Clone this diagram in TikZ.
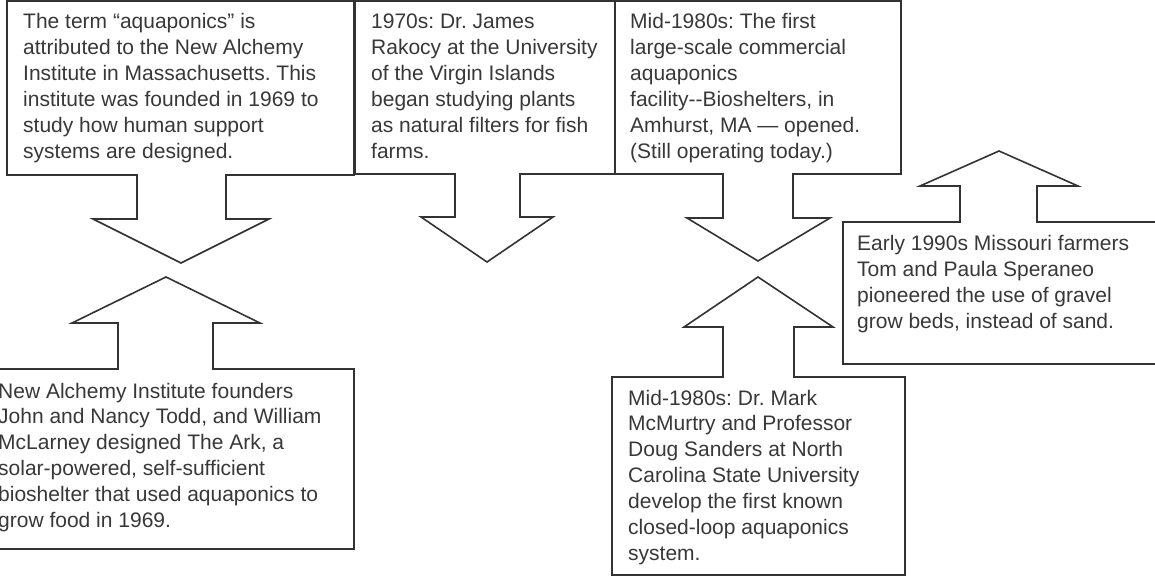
\documentclass[tikz,border=0pt]{standalone}
\usepackage{fontspec}
\setmainfont{Liberation Sans}
\definecolor{ink}{HTML}{333333}
\definecolor{txtgray}{HTML}{383838}
\begin{document}
\frenchspacing
\begin{tikzpicture}[x=1pt,y=-1pt,
  callout/.style={draw=ink,line width=1.6pt,line join=miter,fill=white},
  txt/.style={inner sep=0pt,anchor=base west,text=txtgray,
    font=\fontsize{21}{25.9}\selectfont\frenchspacing}]
\useasboundingbox (0,0) rectangle (1155,577);
\clip (0,0) rectangle (1155,577);
% Box 1 with down arrow
\draw[callout] (7,1) -- (354,1) -- (354,175) -- (226,175) -- (226,219) -- (269,219)
  -- (181,263) -- (93,219) -- (137,219) -- (137,175) -- (7,175) -- cycle;
% Box 2 with down arrow
\draw[callout] (355,1) -- (615,1) -- (615,174) -- (520,174) -- (520,217) -- (553,217)
  -- (487,262) -- (421,217) -- (455,217) -- (455,174) -- (355,174) -- cycle;
% Box 3 with down arrow
\draw[callout] (615,1) -- (901,1) -- (901,174) -- (793,174) -- (793,218) -- (830,218)
  -- (758,261) -- (687,218) -- (723,218) -- (723,174) -- (615,174) -- cycle;
% Box 4 with up arrow
\draw[callout] (843,364) -- (843,222) -- (960,222) -- (960,186) -- (920,186)
  -- (999,151) -- (1078,186) -- (1037,186) -- (1037,222) -- (1170,222)
  -- (1170,364) -- cycle;
% Box 5 with up arrow
\draw[callout] (-20,549) -- (-20,369) -- (118,369) -- (118,323) -- (72,323)
  -- (166,277) -- (260,323) -- (213,323) -- (213,369) -- (354,369)
  -- (354,549) -- cycle;
% Box 6 with up arrow
\draw[callout] (612,575) -- (612,377) -- (723,377) -- (723,327) -- (684,327)
  -- (758,277) -- (833,327) -- (794,327) -- (794,377) -- (905,377)
  -- (905,575) -- cycle;
% Texts
\node[txt] (t1) at (23,29) {\parbox[t]{330pt}{\raggedright
The term “aquaponics” is\\
attributed to the New Alchemy\\
Institute in Massachusetts. This\\
institute was founded in 1969 to\\
study how human support\\
systems are designed.}};
\node[txt] (t2) at (371,29) {\parbox[t]{240pt}{\raggedright
1970s: Dr. James\\
Rakocy at the University\\
of the Virgin Islands\\
began studying plants\\
as natural filters for fish\\
farms.}};
\node[txt] (t3) at (630,29) {\parbox[t]{270pt}{\raggedright
Mid-1980s: The first\\
large-scale commercial\\
aquaponics\\
facility{-}{-}Bioshelters, in\\
Amhurst, MA — opened.\\
(Still operating today.)}};
\node[txt] (t4) at (857,251) {\parbox[t]{300pt}{\raggedright
Early 1990s Missouri farmers\\
Tom and Paula Speraneo\\
pioneered the use of gravel\\
grow beds, instead of sand.}};
\node[txt] (t5) at (-2,398) {\parbox[t]{350pt}{\raggedright
New Alchemy Institute founders\\
John and Nancy Todd, and William\\
McLarney designed The Ark, a\\
solar-powered, self-sufficient\\
bioshelter that used aquaponics to\\
grow food in 1969.}};
\node[txt] (t6) at (628,405) {\parbox[t]{270pt}{\raggedright
Mid-1980s: Dr. Mark\\
McMurtry and Professor\\
Doug Sanders at North\\
Carolina State University\\
develop the first known\\
closed-loop aquaponics\\
system.}};
\end{tikzpicture}
\end{document}
